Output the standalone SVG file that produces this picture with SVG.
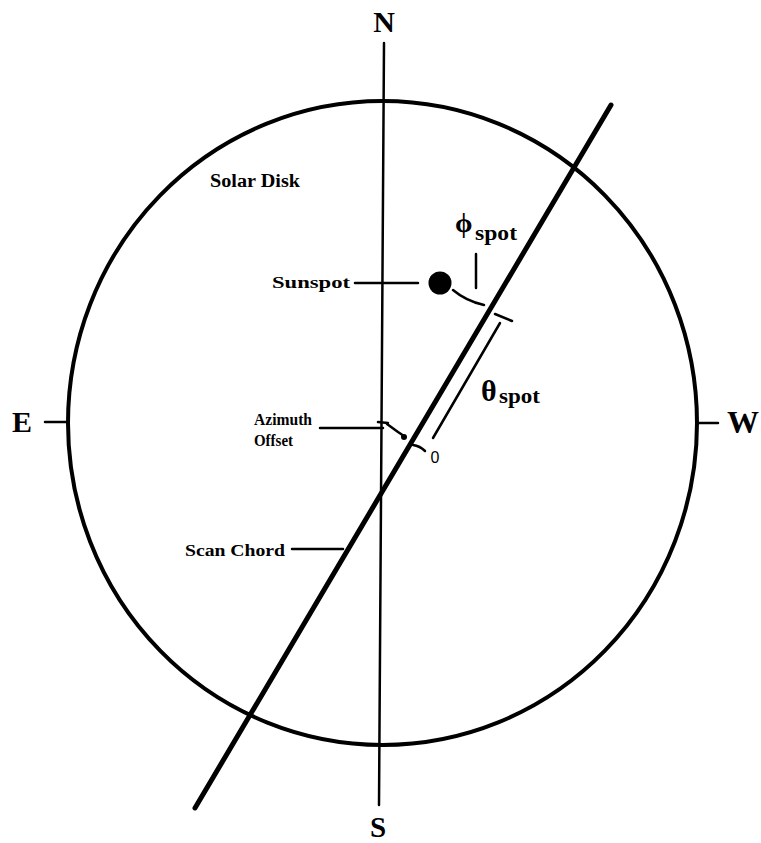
<svg xmlns="http://www.w3.org/2000/svg" width="761" height="843" viewBox="0 0 761 843">
<style>
.ln{fill:none;stroke:#000;stroke-linecap:round;stroke-linejoin:round}
.t{font-family:"Liberation Serif","Times New Roman",serif;font-weight:bold;fill:#000}
.s{font-family:"Liberation Sans",Arial,sans-serif;fill:#000}
</style>
<rect width="761" height="843" fill="#fff"/>
<g id="disk">
<ellipse cx="382.5" cy="423" rx="314.5" ry="322" class="ln" stroke-width="4"/>
<text class="t" x="210" y="187" font-size="18" textLength="90" lengthAdjust="spacingAndGlyphs">Solar Disk</text>
</g>
<g id="compass">
<line x1="384" y1="43" x2="379" y2="805" class="ln" stroke-width="2.5"/>
<line x1="45" y1="422" x2="68" y2="422" class="ln" stroke-width="2.5"/>
<line x1="697" y1="423" x2="718" y2="423" class="ln" stroke-width="2.5"/>
<text class="t" x="384" y="32" font-size="30" text-anchor="middle">N</text>
<text class="t" x="378" y="837" font-size="29" text-anchor="middle">S</text>
<text class="t" x="22" y="432" font-size="30" text-anchor="middle">E</text>
<text class="t" x="727" y="433" font-size="32">W</text>
</g>
<g id="chord">
<line x1="611" y1="105" x2="195" y2="808" class="ln" stroke-width="5"/>
<line x1="343" y1="549" x2="292" y2="549" class="ln" stroke-width="2.5"/>
<text class="t" x="185" y="556" font-size="17" textLength="100" lengthAdjust="spacingAndGlyphs">Scan Chord</text>
</g>
<g id="sunspot">
<circle cx="440" cy="283" r="11.5" fill="#000"/>
<line x1="355" y1="283" x2="418" y2="283" class="ln" stroke-width="2.5"/>
<text class="t" x="272" y="288" font-size="17" textLength="78" lengthAdjust="spacingAndGlyphs">Sunspot</text>
<path d="M453,290 Q466,301 484,305" class="ln" stroke-width="2.5"/>
</g>
<g id="phi">
<line x1="476" y1="254" x2="476" y2="288" class="ln" stroke-width="2.5"/>
<text class="t" x="455" y="232" font-size="28">ϕ</text>
<text class="t" x="475" y="240" font-size="22" textLength="42" lengthAdjust="spacingAndGlyphs">spot</text>
</g>
<g id="theta">
<path d="M495,314 L512,321" class="ln" stroke-width="2.5"/>
<line x1="500" y1="323" x2="433" y2="438" class="ln" stroke-width="2.5"/>
<path d="M413,445 Q420,446 425,451" class="ln" stroke-width="2.5"/>
<text class="s" x="435" y="463" font-size="16" text-anchor="middle">0</text>
<text class="t" x="481" y="401" font-size="30">θ</text>
<text class="t" x="499" y="403" font-size="22" textLength="41" lengthAdjust="spacingAndGlyphs">spot</text>
</g>
<g id="azimuth">
<line x1="320" y1="428" x2="383" y2="428" class="ln" stroke-width="2.5"/>
<line x1="378" y1="422" x2="388" y2="423" class="ln" stroke-width="2.5"/>
<path d="M387,424 L398,432 L404,436" class="ln" stroke-width="2.5"/>
<circle cx="404" cy="437" r="3" fill="#000"/>
<text class="t" x="254" y="425" font-size="16" textLength="58" lengthAdjust="spacingAndGlyphs">Azimuth</text>
<text class="t" x="254" y="446" font-size="16" textLength="39" lengthAdjust="spacingAndGlyphs">Offset</text>
</g>
</svg>
